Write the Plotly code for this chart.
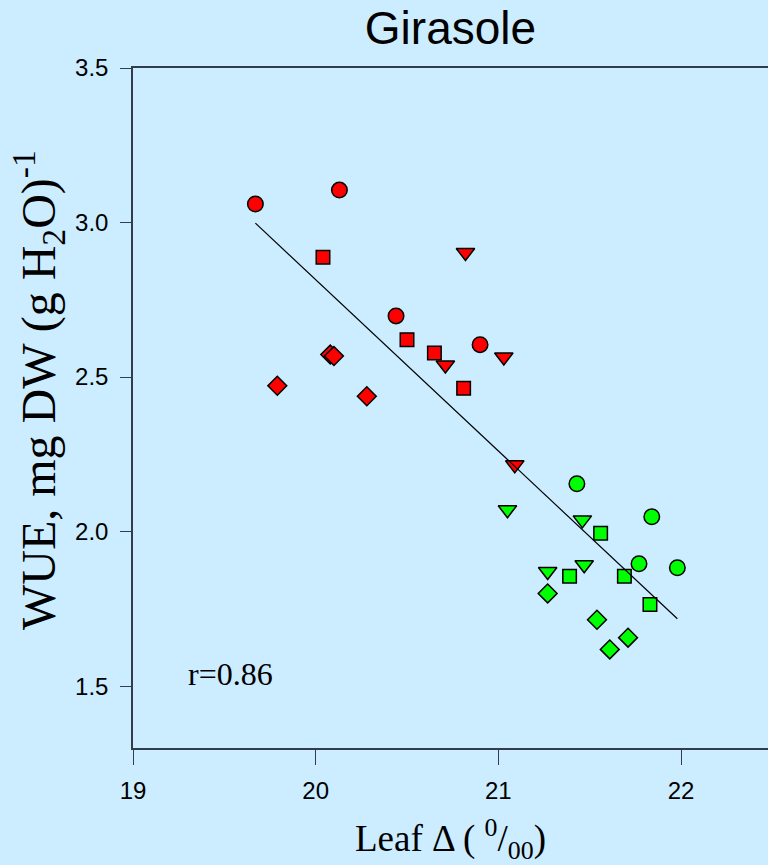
import plotly.graph_objects as go

# ---- data ----
red_circle_x = [19.67, 20.13, 20.44, 20.90]
red_circle_y = [3.060, 3.105, 2.698, 2.605]
red_square_x = [20.04, 20.50, 20.65, 20.81]
red_square_y = [2.888, 2.621, 2.578, 2.464]
red_tri_x = [20.82, 20.71, 21.03, 21.09]
red_tri_y = [2.903, 2.539, 2.565, 2.216]
red_dia_x = [19.79, 20.08, 20.10, 20.28]
red_dia_y = [2.472, 2.573, 2.568, 2.438]

green_circle_x = [21.43, 21.84, 21.77, 21.98]
green_circle_y = [2.155, 2.048, 1.896, 1.883]
green_square_x = [21.56, 21.39, 21.69, 21.83]
green_square_y = [1.995, 1.856, 1.856, 1.764]
green_tri_x = [21.05, 21.46, 21.47, 21.27]
green_tri_y = [2.071, 2.038, 1.893, 1.871]
green_dia_x = [21.27, 21.54, 21.71, 21.61]
green_dia_y = [1.800, 1.715, 1.657, 1.619]

fit_x = [19.67, 21.98]
fit_y = [2.998, 1.718]

x_ticks = [19, 20, 21, 22]
y_ticks = [1.5, 2.0, 2.5, 3.0, 3.5]

BG = "#CCECFF"
AXC = "rgb(50,60,75)"

fig = go.Figure()

def add(xs, ys, color, symbol, size):
    fig.add_trace(go.Scatter(
        x=xs, y=ys, mode="markers",
        marker=dict(color=color, symbol=symbol, size=size,
                    line=dict(color="black", width=1.5)),
        showlegend=False, hoverinfo="x+y"))

for col, sets in [("#FF0000", [(red_circle_x, red_circle_y, "circle", 15.5),
                               (red_square_x, red_square_y, "square", 13.5),
                               (red_tri_x, red_tri_y, "triangle-down", 16),
                               (red_dia_x, red_dia_y, "diamond", 14.5)]),
                  ("#00FF00", [(green_circle_x, green_circle_y, "circle", 15.5),
                               (green_square_x, green_square_y, "square", 13.5),
                               (green_tri_x, green_tri_y, "triangle-down", 16),
                               (green_dia_x, green_dia_y, "diamond", 14.5)])]:
    for xs, ys, sym, sz in sets:
        add(xs, ys, col, sym, sz)

fig.add_trace(go.Scatter(x=fit_x, y=fit_y, mode="lines",
                         line=dict(color="black", width=1.2),
                         showlegend=False, hoverinfo="skip"))

fig.update_layout(
    width=768, height=865,
    paper_bgcolor=BG, plot_bgcolor=BG,
    margin=dict(l=133, r=0, t=68, b=117),
    title=dict(text="Girasole", x=0.5, xref="paper", xanchor="center",
               y=1 - 28 / 865, yref="container", yanchor="middle",
               font=dict(family="Liberation Sans, Arial", size=46, color="black")),
    xaxis=dict(range=[19, 19 + 635 / 182.67], tickvals=x_ticks,
               ticktext=[str(v) for v in x_ticks],
               showgrid=False, zeroline=False,
               showline=True, linecolor=AXC, linewidth=1.5, mirror=True,
               ticks="outside", ticklen=15, tickwidth=1.2, tickcolor=AXC,
               ticklabelstandoff=5,
               tickfont=dict(family="Liberation Sans, Arial", size=24, color="black"),
               title=dict(text="Leaf Δ ( <sup>0</sup>/<sub>00</sub>)", standoff=26,
                          font=dict(family="Liberation Serif, Times New Roman", size=37, color="black"))),
    yaxis=dict(range=[1.3, 3.5], tickvals=y_ticks,
               ticktext=["%.1f" % v for v in y_ticks],
               showgrid=False, zeroline=False,
               showline=True, linecolor=AXC, linewidth=1.5, mirror=False,
               ticks="outside", ticklen=11, tickwidth=1.2, tickcolor=AXC,
               ticklabelstandoff=7,
               tickfont=dict(family="Liberation Sans, Arial", size=24, color="black")),
    annotations=[
        dict(text="r=0.86", x=19.29, y=1.54, xref="x", yref="y",
             xanchor="left", yanchor="middle", showarrow=False,
             font=dict(family="Liberation Serif, Times New Roman", size=32, color="black")),
        dict(text="WUE, mg DW (g H<sub>2</sub>O)<sup>-1</sup>", textangle=-90,
             x=(38 - 133) / 635, y=(748 - 390) / 680, xref="paper", yref="paper",
             xanchor="center", yanchor="middle", showarrow=False,
             font=dict(family="Liberation Serif, Times New Roman", size=48, color="black")),
    ],
)

fig.write_html("out.html")
